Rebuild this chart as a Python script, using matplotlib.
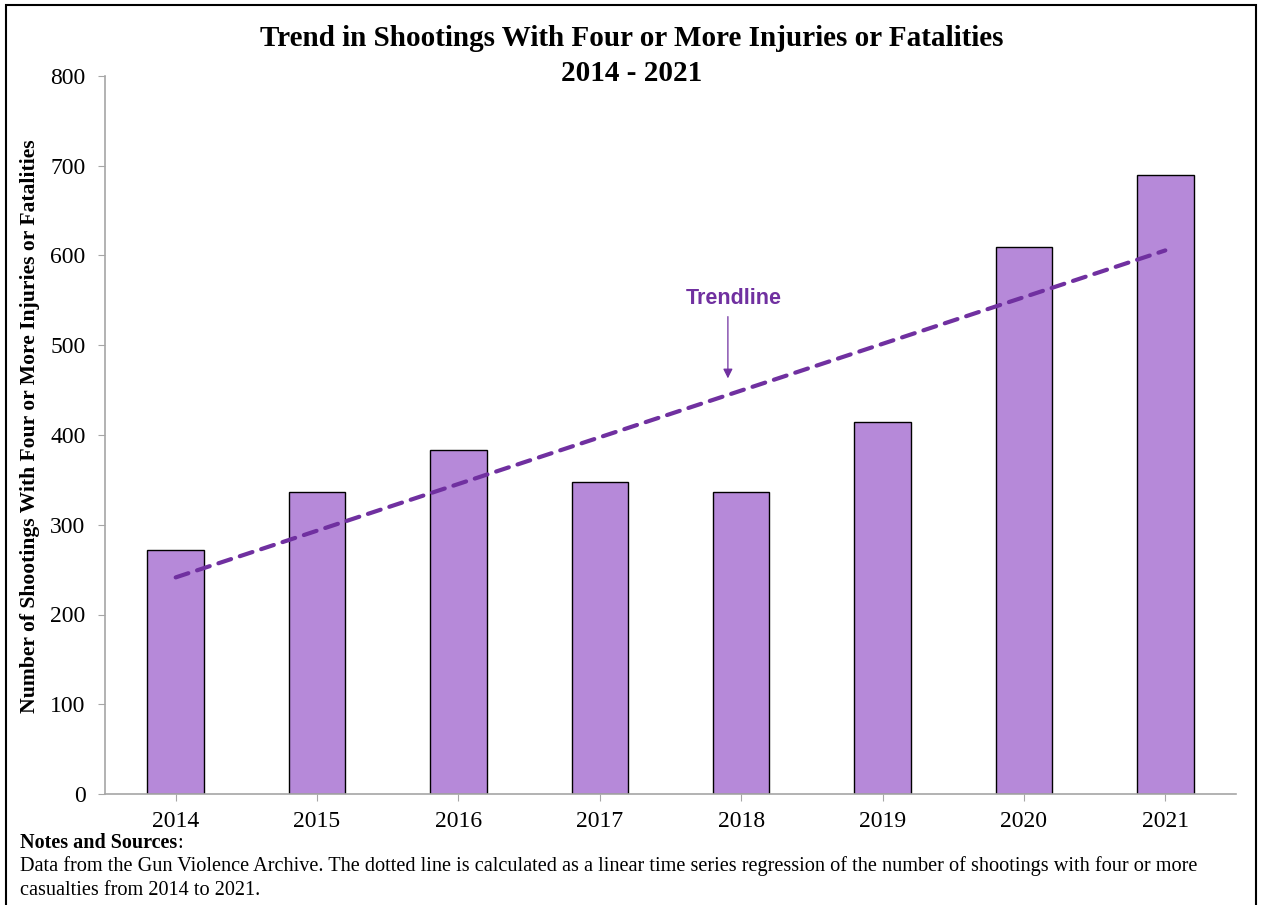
import matplotlib
matplotlib.use("Agg")
import matplotlib.pyplot as plt
import numpy as np
from matplotlib.patches import Rectangle

years = ["2014", "2015", "2016", "2017", "2018", "2019", "2020", "2021"]
shootings = [272, 336, 383, 348, 336, 414, 609, 690]
yticks = [0, 100, 200, 300, 400, 500, 600, 700, 800]

title = "Trend in Shootings With Four or More Injuries or Fatalities\n2014 - 2021"
ylabel = "Number of Shootings With Four or More Injuries or Fatalities"
notes_head = "Notes and Sources"
notes_body = ("Data from the Gun Violence Archive. The dotted line is calculated as a linear time series regression of the number of shootings with four or more\n"
              "casualties from 2014 to 2021.")

serif = ["Liberation Serif", "DejaVu Serif"]
W, H = 1262, 905
fig = plt.figure(figsize=(W / 100, H / 100), dpi=100)
ax = fig.add_axes([105 / W, 1 - 794 / H, (1236 - 105) / W, (794 - 76) / H])

x = np.arange(len(years))
ax.bar(x, shootings, width=0.4, color="#B689D9", edgecolor="black", linewidth=1.0, zorder=2)

# linear regression trendline
coef = np.polyfit(x, shootings, 1)
trend = np.polyval(coef, x)
ax.plot(x, trend, color="#7030A0", linewidth=3.0, linestyle=(0, (3.2, 2.2)),
        dash_capstyle="round", zorder=3)

ax.set_xlim(-0.5, len(years) - 0.5)
ax.set_ylim(0, 800)
ax.set_yticks(yticks)
ax.set_yticklabels([str(v) for v in yticks], fontfamily=serif, fontsize=17)
ax.set_xticks(x)
ax.set_xticklabels(years, fontfamily=serif, fontsize=17)
for s in ["top", "right"]:
    ax.spines[s].set_visible(False)
for s in ["left", "bottom"]:
    ax.spines[s].set_color("#A6A6A6")
    ax.spines[s].set_linewidth(1.2)
ax.tick_params(axis="y", length=5, color="#A6A6A6", pad=9)
ax.tick_params(axis="x", length=5, color="#A6A6A6", pad=7)

ax.set_ylabel(ylabel, fontfamily=serif, fontsize=15.6, fontweight="bold")
ax.yaxis.set_label_coords((30 - 105) / 1131, (794 - 426) / 718)
ax.yaxis.label.set_va("center")
ax.yaxis.label.set_ha("center")

# trendline annotation
ax.annotate("", xy=(3.906, 460), xytext=(3.906, 535),
            arrowprops=dict(arrowstyle="-|>", color="#7030A0", lw=0.9, mutation_scale=14))
ax.text(3.95, 552, "Trendline", color="#7030A0", fontsize=15.5, fontweight="bold",
        fontfamily=["Liberation Sans", "DejaVu Sans"], ha="center", va="center")

fig.text(632 / W, 1 - 56 / H, title, ha="center", va="center", fontfamily=serif,
         fontsize=21, fontweight="bold", linespacing=1.38)

head = fig.text(20 / W, 1 - 843 / H, notes_head, ha="left", va="center", fontfamily=serif,
                fontsize=14.5, fontweight="bold")
plt.annotate(":", xy=(1, 0.5), xycoords=head, ha="left", va="center",
             fontfamily=serif, fontsize=14.5)
fig.text(20 / W, 1 - 878 / H, notes_body, ha="left", va="center", fontfamily=serif,
         fontsize=14.6, linespacing=1.33)

# figure border
fig.patches.append(Rectangle((6 / W, -0.01), (1256 - 6) / W, 1 - 5 / H + 0.01,
                             transform=fig.transFigure, fill=False, edgecolor="black",
                             linewidth=1.5))

fig.savefig("out.png", dpi=100)
